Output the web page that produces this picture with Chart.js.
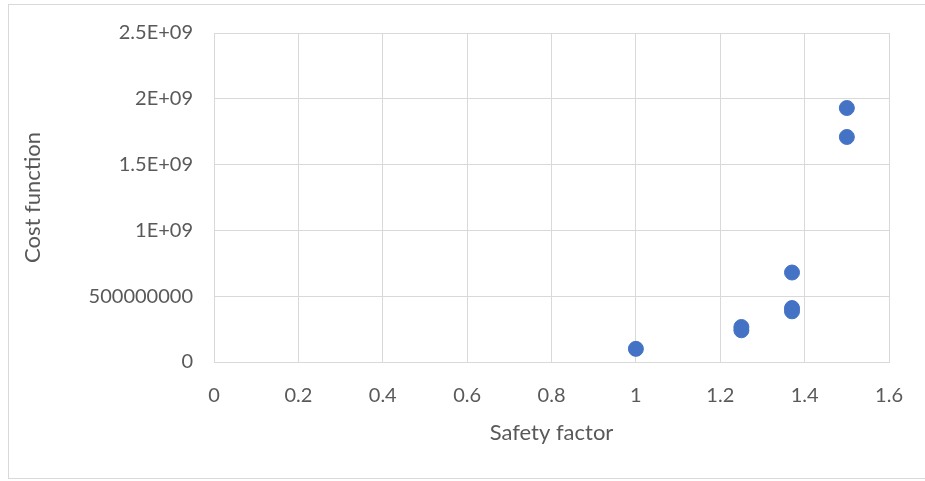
<!DOCTYPE html>
<html>
<head>
<meta charset="utf-8">
<script src="https://cdn.jsdelivr.net/npm/chart.js@4"></script>
<style>
  html, body { margin: 0; padding: 0; background: #fff; }
  #wrap { position: relative; width: 925px; height: 481px; }
  #frame { position: absolute; left: 8px; top: 4px; width: 930px; height: 475px; border: 1px solid #d9d9d9; box-sizing: border-box; }
  canvas { position: absolute; left: 0; top: 0; }
</style>
</head>
<body>
<div id="wrap">
  <div id="frame"></div>
  <canvas id="chart" width="925" height="481"></canvas>
</div>
<script>
// safety factor vs cost function
const safetyFactor = [1, 1.25, 1.25, 1.37, 1.37, 1.37, 1.5, 1.5];
const costValues = [1.0e8, 2.66e8, 2.41e8, 6.8e8, 4.1e8, 3.85e8, 1.93e9, 1.71e9];
const xTickLabels = ['0', '0.2', '0.4', '0.6', '0.8', '1', '1.2', '1.4', '1.6'];
const yTickLabels = ['0', '500000000', '1E+09', '1.5E+09', '2E+09', '2.5E+09'];

const points = safetyFactor.map((x, i) => ({ x: x, y: costValues[i] }));

const fontFamily = 'Lato, "Open Sans", sans-serif';
const grey = '#595959';

new Chart(document.getElementById('chart'), {
  type: 'scatter',
  data: {
    datasets: [{
      label: 'Cost',
      data: points,
      backgroundColor: '#4472C4',
      borderColor: '#4472C4',
      borderWidth: 1,
      pointRadius: 7.5,
      pointHoverRadius: 7.5
    }]
  },
  options: {
    responsive: false,
    animation: false,
    layout: { padding: { left: 0, right: 35, top: 33, bottom: 0 } },
    plugins: { legend: { display: false }, tooltip: { enabled: false } },
    scales: {
      x: {
        type: 'linear',
        min: 0,
        max: 1.6,
        ticks: {
          stepSize: 0.2, color: grey, font: { family: fontFamily, size: 20 }, padding: 22,
          callback: (v, i) => xTickLabels[i]
        },
        grid: { color: '#d9d9d9', drawTicks: false },
        border: { color: '#d9d9d9' },
        title: { display: true, text: 'Safety factor', color: grey, font: { family: fontFamily, size: 22 }, padding: { top: 0, bottom: 35 } },
        afterFit: s => { s.height = 119; }
      },
      y: {
        type: 'linear',
        min: 0,
        max: 2.5e9,
        ticks: {
          stepSize: 5e8, color: grey, font: { family: fontFamily, size: 20 }, padding: 21,
          callback: (v, i) => yTickLabels[i]
        },
        grid: { color: '#d9d9d9', drawTicks: false },
        border: { color: '#d9d9d9' },
        title: { display: true, text: 'Cost function', color: grey, font: { family: fontFamily, size: 22 }, padding: { top: 20, bottom: 0 } },
        afterFit: s => { s.width = 214; }
      }
    }
  }
});
</script>
</body>
</html>
